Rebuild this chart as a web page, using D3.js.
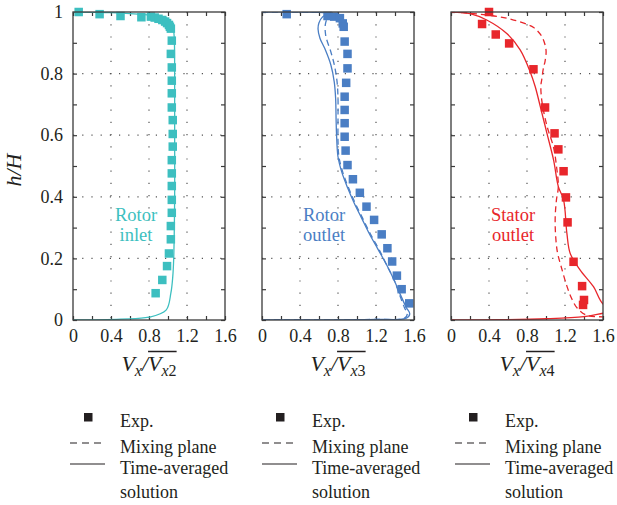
<!DOCTYPE html>
<html>
<head>
<meta charset="utf-8">
<script src="https://cdn.jsdelivr.net/npm/d3@7"></script>
<style>
    body { margin: 0; background: #fff; }
    svg text { font-family: "Liberation Serif", "DejaVu Serif", serif; fill: #231f20; }
</style>
</head>
<body>
<svg class="profiles" width="617" height="505"></svg>
<script>
// spanwise profiles, [V / Vref, h/H]
const inletExp = [
    [0.06, 1.0], [0.28, 0.993], [0.5, 0.987], [0.72, 0.983], [0.82, 0.985], [0.86, 0.982],
    [0.9, 0.978], [0.94, 0.974], [0.97, 0.969], [0.99, 0.964], [1.01, 0.958], [1.02, 0.952],
    [1.03, 0.946], [1.04, 0.907], [1.03, 0.864], [1.04, 0.82], [1.04, 0.777], [1.04, 0.736],
    [1.04, 0.69], [1.05, 0.649], [1.05, 0.604], [1.05, 0.563], [1.04, 0.519], [1.04, 0.476],
    [1.04, 0.435], [1.04, 0.39], [1.04, 0.348], [1.03, 0.305], [1.03, 0.262], [1.01, 0.216],
    [0.99, 0.175], [0.94, 0.13], [0.87, 0.087]
];
const inletTimeAvg = [
    [0, 1], [0.4, 0.998], [0.72, 0.992], [0.94, 0.985], [1.015, 0.974], [1.05, 0.955],
    [1.065, 0.92], [1.07, 0.8], [1.07, 0.6], [1.07, 0.4], [1.06, 0.2], [1.05, 0.14],
    [1.03, 0.087], [0.98, 0.032], [0.8, 0.009], [0.5, 0.003], [0, 0]
];

const outletExp = [
    [0.26, 0.993], [0.69, 0.987], [0.76, 0.985], [0.82, 0.98], [0.85, 0.963], [0.86, 0.952],
    [0.87, 0.904], [0.9, 0.864], [0.9, 0.817], [0.886, 0.77], [0.87, 0.725], [0.87, 0.682],
    [0.87, 0.639], [0.87, 0.595], [0.88, 0.55], [0.9, 0.503], [0.957, 0.457], [1.03, 0.413],
    [1.1, 0.368], [1.18, 0.325], [1.26, 0.278], [1.32, 0.233], [1.37, 0.19], [1.42, 0.144],
    [1.47, 0.1], [1.55, 0.054]
];
const outletMixing = [
    [0, 1], [0.5, 0.999], [0.74, 0.997], [0.71, 0.99], [0.67, 0.965], [0.67, 0.925],
    [0.725, 0.87], [0.76, 0.83], [0.79, 0.774], [0.8, 0.72], [0.8, 0.65], [0.8, 0.58],
    [0.81, 0.53], [0.85, 0.48], [0.91, 0.43], [0.98, 0.38], [1.06, 0.33], [1.14, 0.28],
    [1.23, 0.23], [1.31, 0.18], [1.39, 0.13], [1.45, 0.08], [1.5, 0.04], [1.53, 0.02],
    [1.5, 0.006], [1.2, 0.002], [0, 0]
];
const outletTimeAvg = [
    [0, 1], [0.55, 0.999], [0.7, 0.995], [0.64, 0.985], [0.6, 0.965], [0.59, 0.945],
    [0.61, 0.915], [0.66, 0.882], [0.725, 0.828], [0.76, 0.774], [0.775, 0.72], [0.78, 0.65],
    [0.785, 0.6], [0.8, 0.53], [0.84, 0.48], [0.9, 0.43], [0.97, 0.38], [1.05, 0.33],
    [1.13, 0.28], [1.22, 0.23], [1.31, 0.18], [1.39, 0.13], [1.46, 0.08], [1.52, 0.04],
    [1.555, 0.02], [1.52, 0.006], [1.2, 0.002], [0, 0]
];

const statorExp = [
    [0.4, 1.0], [0.327, 0.961], [0.471, 0.927], [0.612, 0.898], [0.868, 0.814], [0.99, 0.69],
    [1.09, 0.606], [1.13, 0.554], [1.185, 0.483], [1.21, 0.398], [1.227, 0.317], [1.29, 0.189],
    [1.38, 0.11], [1.4, 0.065], [1.39, 0.049]
];
const statorMixing = [
    [0, 1], [0.2, 0.996], [0.5, 0.985], [0.66, 0.974], [0.8, 0.96], [0.87, 0.95],
    [0.957, 0.92], [1.0, 0.877], [0.99, 0.84], [0.974, 0.82], [0.955, 0.78], [0.946, 0.76],
    [0.957, 0.71], [1.01, 0.63], [1.08, 0.56], [1.11, 0.5], [1.13, 0.433], [1.11, 0.39],
    [1.097, 0.335], [1.1, 0.281], [1.12, 0.22], [1.16, 0.173], [1.22, 0.11], [1.27, 0.07],
    [1.33, 0.038], [1.43, 0.015], [1.6, 0.01], [1.75, 0.008]
];
const statorTimeAvg = [
    [0, 1], [0.2, 0.995], [0.376, 0.974], [0.587, 0.93], [0.728, 0.877], [0.833, 0.806],
    [0.886, 0.758], [0.94, 0.693], [1.01, 0.606], [1.08, 0.519], [1.13, 0.433], [1.185, 0.39],
    [1.22, 0.281], [1.255, 0.216], [1.36, 0.162], [1.5, 0.108], [1.6, 0.052], [1.75, 0.03],
    [1.6, 0.022], [1.4, 0.011], [1.0, 0.004], [0.5, 0.001], [0, 0]
];

const panelNames = [["Rotor", "inlet"], ["Rotor", "outlet"], ["Stator", "outlet"]];
const refSubscripts = ["x2", "x3", "x4"];
const panelColors = ["#3dbfc0", "#4a7ec4", "#e8262b"];
const xTickValues = [0, 0.4, 0.8, 1.2, 1.6];
const yTickValues = [0, 0.2, 0.4, 0.6, 0.8, 1];
const legendLabels = ["Exp.", "Mixing plane", "Time-averaged"];

const panels = [
    {exp: inletExp, mixing: null, timeAvg: inletTimeAvg},
    {exp: outletExp, mixing: outletMixing, timeAvg: outletTimeAvg},
    {exp: statorExp, mixing: statorMixing, timeAvg: statorTimeAvg}
];

const svg = d3.select(".profiles");
const panelLeft = 73, panelWidth = 152, panelGap = 37, panelTop = 12, panelHeight = 308;
const frameColor = "#3a3a3a";

const y = d3.scaleLinear().domain([0, 1]).range([panelTop + panelHeight, panelTop]);

panels.forEach((p, i) => {
    const x0 = panelLeft + i * (panelWidth + panelGap);
    const x = d3.scaleLinear().domain([0, 1.6]).range([x0, x0 + panelWidth]);
    const color = panelColors[i];
    const g = svg.append("g");

    svg.append("clipPath").attr("id", "clip" + i)
        .append("rect")
        .attr("x", x0).attr("y", panelTop)
        .attr("width", panelWidth).attr("height", panelHeight);

    // dotted grid
    g.selectAll(".vgrid").data([0.4, 0.8, 1.2]).enter().append("line")
        .attr("x1", d => x(d)).attr("x2", d => x(d))
        .attr("y1", panelTop).attr("y2", panelTop + panelHeight)
        .attr("stroke", "#555").attr("stroke-width", 1.2)
        .attr("stroke-dasharray", "1.2,11");
    g.selectAll(".hgrid").data([0.2, 0.4, 0.6, 0.8]).enter().append("line")
        .attr("x1", x0).attr("x2", x0 + panelWidth)
        .attr("y1", d => y(d)).attr("y2", d => y(d))
        .attr("stroke", "#555").attr("stroke-width", 1.2)
        .attr("stroke-dasharray", "1.2,8");

    // inward ticks on all four sides
    const xMinor = d3.range(0, 1.61, 0.2);
    const yMinor = d3.range(0, 1.01, 0.1);
    [[d3.axisBottom(x), panelTop + panelHeight], [d3.axisTop(x), panelTop]].forEach(a => {
        g.append("g").attr("transform", `translate(0,${a[1]})`)
            .call(a[0].tickValues(xMinor).tickSize(-4).tickFormat(""))
            .call(s => s.select(".domain").remove())
            .call(s => s.selectAll("line").attr("stroke", frameColor).attr("stroke-width", 1.2));
    });
    [[d3.axisLeft(y), x0], [d3.axisRight(y), x0 + panelWidth]].forEach(a => {
        g.append("g").attr("transform", `translate(${a[1]},0)`)
            .call(a[0].tickValues(yMinor).tickSize(-4).tickFormat(""))
            .call(s => s.select(".domain").remove())
            .call(s => s.selectAll("line").attr("stroke", frameColor).attr("stroke-width", 1.2));
    });

    // x tick labels
    g.append("g").attr("transform", `translate(0,${panelTop + panelHeight + 6})`)
        .call(d3.axisBottom(x).tickValues(xTickValues).tickSize(0).tickFormat(d3.format("~g")))
        .call(s => s.select(".domain").remove())
        .call(s => s.selectAll("text").style("font-size", "18px")
            .style("font-family", "Liberation Serif").attr("fill", "#231f20"));

    if (i === 0) {
        g.append("g").attr("transform", `translate(${x0 - 7},0)`)
            .call(d3.axisLeft(y).tickValues(yTickValues).tickSize(0).tickFormat(d3.format("~g")))
            .call(s => s.select(".domain").remove())
            .call(s => s.selectAll("text").style("font-size", "18px")
                .style("font-family", "Liberation Serif").attr("fill", "#231f20"));
    }

    const line = d3.line().x(d => x(d[0])).y(d => y(d[1])).curve(d3.curveCatmullRom.alpha(0.5));
    const plot = g.append("g").attr("clip-path", `url(#clip${i})`);

    if (p.mixing) {
        plot.append("path").datum(p.mixing)
            .attr("d", line).attr("fill", "none")
            .attr("stroke", color).attr("stroke-width", 1.3)
            .attr("stroke-dasharray", "6,4");
    }
    plot.append("path").datum(p.timeAvg)
        .attr("d", line).attr("fill", "none")
        .attr("stroke", color).attr("stroke-width", 1.3);

    const sq = 8.5;
    g.selectAll(".exp").data(p.exp).enter().append("rect")
        .attr("x", d => x(d[0]) - sq / 2).attr("y", d => y(d[1]) - sq / 2)
        .attr("width", sq).attr("height", sq)
        .attr("fill", color);

    // frame
    g.append("rect")
        .attr("x", x0).attr("y", panelTop)
        .attr("width", panelWidth).attr("height", panelHeight)
        .attr("fill", "none").attr("stroke", frameColor).attr("stroke-width", 1.3);

    // panel name, one text per line
    const nameX = [136, 324, 513][i];
    panelNames[i].forEach((t, k) => {
        g.append("text").attr("x", nameX).attr("y", 221 + k * 19.5)
            .attr("text-anchor", "middle")
            .style("font-size", "18.5px").style("fill", color).text(t);
    });

    // x axis title V_x / overline(V_xN)
    const cx = x0 + panelWidth / 2;
    const title = g.append("text")
        .attr("x", cx).attr("y", 371)
        .attr("text-anchor", "middle")
        .style("font-size", "22px").style("font-style", "italic");
    title.append("tspan").text("V");
    title.append("tspan").attr("dy", 5).style("font-size", "16px").text("x");
    title.append("tspan").attr("dy", -5).text("/V");
    title.append("tspan").attr("dy", 5).style("font-size", "16px").text(refSubscripts[i].charAt(0));
    title.append("tspan").style("font-size", "16px").style("font-style", "normal")
        .text(refSubscripts[i].charAt(1));
    const node = title.node();
    const a = node.getExtentOfChar(3), b = node.getExtentOfChar(5);
    g.append("line")
        .attr("x1", a.x).attr("x2", b.x + b.width)
        .attr("y1", a.y + 0.5).attr("y2", a.y + 0.5)
        .attr("stroke", "#231f20").attr("stroke-width", 1.5);

    // legend
    const lx = [120, 312, 505][i];
    const lg = g.append("g");
    lg.append("rect").attr("x", lx - 36).attr("y", 413).attr("width", 8.5).attr("height", 8.5)
        .attr("fill", "#231f20");
    lg.append("line").attr("x1", lx - 50).attr("x2", lx - 15).attr("y1", 443).attr("y2", 443)
        .attr("stroke", "#231f20").attr("stroke-width", 1.1).attr("stroke-dasharray", "7,5");
    lg.append("line").attr("x1", lx - 50).attr("x2", lx - 15).attr("y1", 464).attr("y2", 464)
        .attr("stroke", "#231f20").attr("stroke-width", 1.1);
    legendLabels.forEach((t, k) => {
        lg.append("text").attr("x", lx).attr("y", [427, 453, 474][k])
            .style("font-size", "18px").text(t);
    });
    lg.append("text").attr("x", lx).attr("y", 498).style("font-size", "18px").text("solution");
});

svg.append("text")
    .attr("transform", "translate(21,170) rotate(-90)")
    .attr("text-anchor", "middle")
    .style("font-size", "22px").style("font-style", "italic")
    .text("h/H");
</script>
</body>
</html>
